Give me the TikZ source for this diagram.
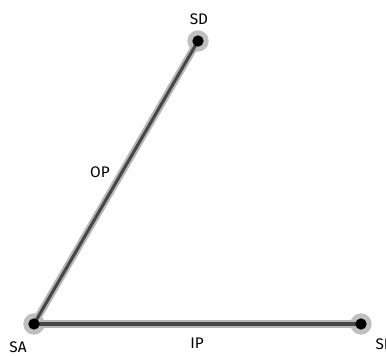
\documentclass[tikz,border=0pt]{standalone}
\usepackage{fontspec}
\setmainfont{Fira Sans}
\usepackage{tikz}
\usetikzlibrary{positioning}
\tikzstyle{station}=[circle, fill=black, inner sep=0pt, minimum size=8.5pt]
\tikzstyle{halo}=[circle, fill=black!25, inner sep=0pt, minimum size=16pt]
\tikzstyle{wire}=[line width=5.5pt, draw=black!28]
\tikzstyle{core}=[line width=2.3pt, draw=black!72]
\tikzstyle{tag}=[font=\fontsize{11.5pt}{13pt}\selectfont, inner sep=1pt]

\begin{document}
\begin{tikzpicture}[x=0.75pt, y=-0.75pt]
	\useasboundingbox (0,0) rectangle (386,356);

	% halos
	\node (haloSA) [halo] at (34,324) {};
	\node (haloSD) [halo] at (198,41) {};
	\node (haloSE) [halo] at (361,324) {};

	\draw[wire] (haloSA.center) -- (haloSD.center);
	\draw[wire] (haloSA.center) -- (haloSE.center);
	\draw[core] (haloSA.center) -- (haloSD.center);
	\draw[core] (haloSA.center) -- (haloSE.center);

	\node (sa) [station] at (haloSA) {};
	\node (sd) [station] at (haloSD) {};
	\node (se) [station] at (haloSE) {};

	\node (labelSA) [tag] at (18,347) {SA};
	\node (labelSD) [tag] at (199,19) {SD};
	\node (labelSE) [tag, anchor=west] at (374,344) {SE};
	\node (labelOP) [tag] at (100,172) {OP};
	\node (labelIP) [tag] at (197,343) {IP};

\end{tikzpicture}
\end{document}
